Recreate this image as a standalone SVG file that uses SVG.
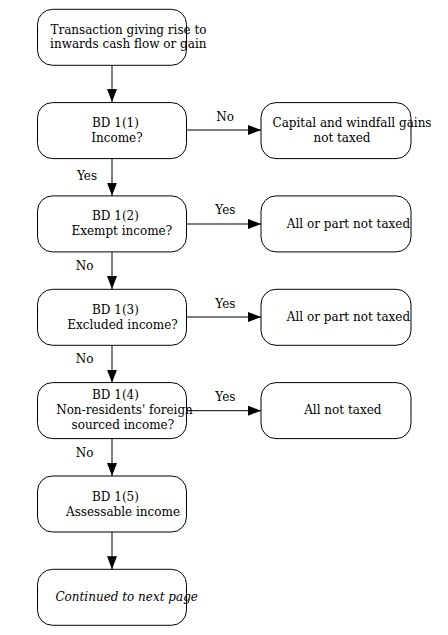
<svg xmlns="http://www.w3.org/2000/svg" width="448" height="635" viewBox="0 0 448 635">
<defs>
<marker id="ah" viewBox="0 0 13 10" refX="13" refY="5" markerWidth="13" markerHeight="10" markerUnits="userSpaceOnUse" orient="auto">
<path d="M0,0 L13,5 L0,10 Z" fill="#000"/>
</marker>
<style>
.box{fill:#fff;stroke:#000;stroke-width:1}
.t{font-family:"DejaVu Serif","Liberation Serif",serif;font-size:12px;fill:#000;text-anchor:middle}
.it{font-style:italic}
.edge{stroke:#000;stroke-width:1;fill:none;marker-end:url(#ah)}
</style>
</defs>
<rect width="448" height="635" fill="#fff"/>
<g id="connectors">
<line class="edge" x1="112" y1="65.3" x2="112" y2="102"/>
<line class="edge" x1="112" y1="158.6" x2="112" y2="195.7"/>
<line class="edge" x1="112" y1="251.9" x2="112" y2="289"/>
<line class="edge" x1="112" y1="345.3" x2="112" y2="382.7"/>
<line class="edge" x1="112" y1="438.6" x2="112" y2="476"/>
<line class="edge" x1="112" y1="532" x2="112" y2="569.3"/>
<line class="edge" x1="186.5" y1="130" x2="261" y2="130"/>
<line class="edge" x1="186.5" y1="224" x2="261" y2="224"/>
<line class="edge" x1="186.5" y1="317" x2="261" y2="317"/>
<line class="edge" x1="186.5" y1="410.7" x2="261" y2="410.7"/>
<text class="t" x="225" y="120.7">No</text>
<text class="t" x="225.4" y="214.3">Yes</text>
<text class="t" x="225.4" y="307.7">Yes</text>
<text class="t" x="225.4" y="401">Yes</text>
<text class="t" x="87" y="180">Yes</text>
<text class="t" x="84.5" y="270">No</text>
<text class="t" x="84.5" y="363.3">No</text>
<text class="t" x="84.5" y="456.7">No</text>
</g>
<g id="start">
<rect class="box" x="37.5" y="9.3" width="149" height="56" rx="15"/>
<text class="t" x="128.5" y="34">Transaction giving rise to</text>
<text class="t" x="128.3" y="48">inwards cash flow or gain</text>
</g>
<g id="bd11">
<rect class="box" x="37.5" y="102.6" width="149" height="56" rx="15"/>
<text class="t" x="115.5" y="127">BD 1(1)</text>
<text class="t" x="117" y="142">Income?</text>
</g>
<g id="capital">
<rect class="box" x="261" y="102.6" width="150" height="56" rx="15"/>
<text class="t" x="352" y="127">Capital and windfall gains</text>
<text class="t" x="342" y="141.5">not taxed</text>
</g>
<g id="bd12">
<rect class="box" x="37.5" y="195.9" width="149" height="56" rx="15"/>
<text class="t" x="115.5" y="220.3">BD 1(2)</text>
<text class="t" x="121.8" y="235.3">Exempt income?</text>
</g>
<g id="exempt-out">
<rect class="box" x="261" y="195.9" width="150" height="56" rx="15"/>
<text class="t" x="348.5" y="227.7">All or part not taxed</text>
</g>
<g id="bd13">
<rect class="box" x="37.5" y="289.3" width="149" height="56" rx="15"/>
<text class="t" x="115.5" y="313.5">BD 1(3)</text>
<text class="t" x="122.5" y="328.5">Excluded income?</text>
</g>
<g id="excluded-out">
<rect class="box" x="261" y="289.3" width="150" height="56" rx="15"/>
<text class="t" x="348.5" y="321">All or part not taxed</text>
</g>
<g id="bd14">
<rect class="box" x="37.5" y="382.6" width="149" height="56" rx="15"/>
<text class="t" x="115.5" y="399.3">BD 1(4)</text>
<text class="t" x="124.5" y="414">Non-residents' foreign</text>
<text class="t" x="122.8" y="428.5">sourced income?</text>
</g>
<g id="nonres-out">
<rect class="box" x="261" y="382.6" width="150" height="56" rx="15"/>
<text class="t" x="342.8" y="414.3">All not taxed</text>
</g>
<g id="bd15">
<rect class="box" x="37.5" y="476" width="149" height="56" rx="15"/>
<text class="t" x="115.5" y="500.7">BD 1(5)</text>
<text class="t" x="123" y="515.5">Assessable income</text>
</g>
<g id="continued">
<rect class="box" x="37.5" y="569.3" width="149" height="56" rx="15"/>
<text class="t it" x="126.7" y="601.3">Continued to next page</text>
</g>
</svg>
